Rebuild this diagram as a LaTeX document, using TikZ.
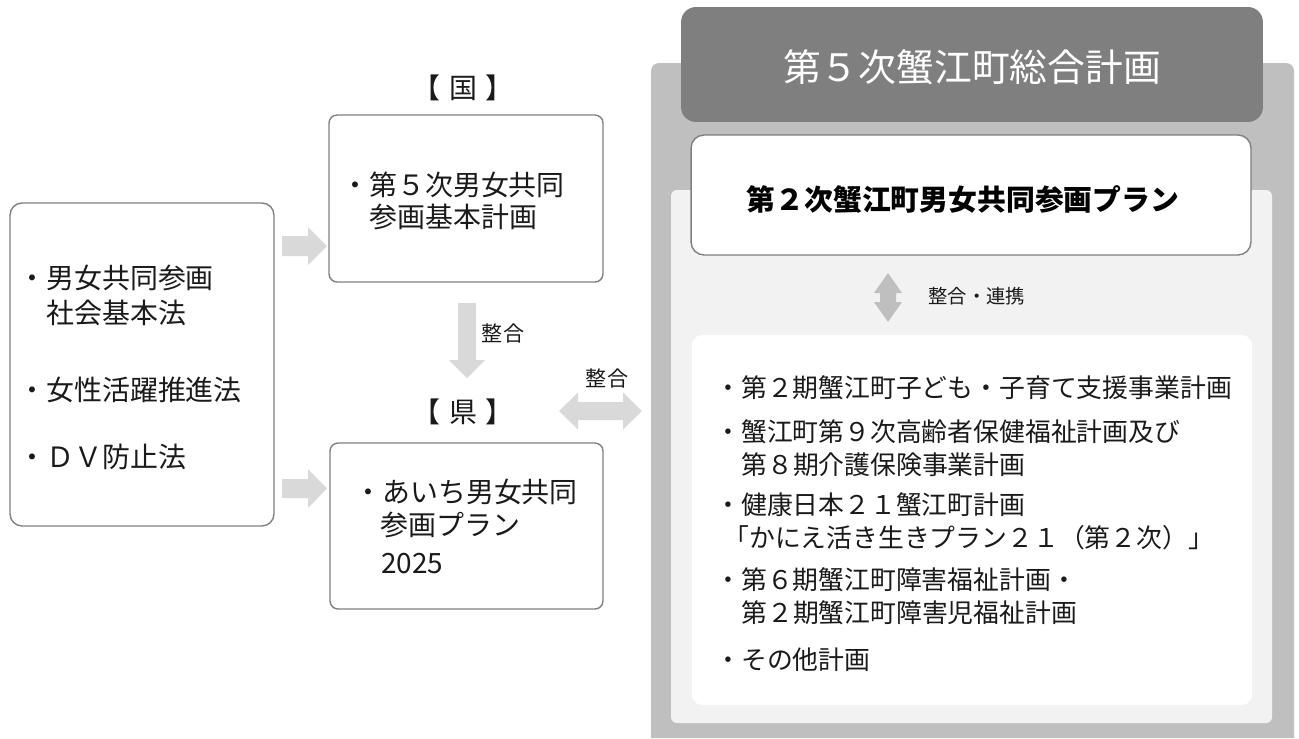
\documentclass[tikz,border=0pt]{standalone}
\usepackage{fontspec}
\setmainfont{Noto Sans CJK JP}
\definecolor{outergray}{HTML}{BFBFBF}
\definecolor{headgray}{HTML}{7F7F7F}
\definecolor{innerlight}{HTML}{F2F2F2}
\definecolor{arrowlight}{HTML}{D9D9D9}
\definecolor{arrowmid}{HTML}{BFBFBF}
\definecolor{boxline}{HTML}{808080}
\definecolor{txtcol}{HTML}{1A1A1A}
\begin{document}
\begin{tikzpicture}[x=0.02cm,y=-0.02cm,
  box/.style={draw=boxline, line width=0.8pt, fill=white, inner sep=0pt},
  txtL/.style={anchor=west, inner sep=0pt, text=txtcol, font=\fontsize{15.9pt}{19pt}\selectfont, text height=14pt, text depth=1.9pt},
  txtR/.style={anchor=west, inner sep=0pt, text=txtcol, font=\fontsize{14.7pt}{18pt}\selectfont, text height=12.9pt, text depth=1.8pt},
  lbl/.style={inner sep=0pt, text=txtcol, font=\fontsize{12pt}{14pt}\selectfont, text height=10.6pt, text depth=1.4pt},
  fatarrow/.style={fill=arrowlight, draw=none}]
\useasboundingbox (0,0) rectangle (1299,738);

% ---- right-hand frame ----
\fill[outergray] (651,738) [rounded corners=0.16cm] -- (651,63) -- (1294,63) [sharp corners] -- (1294,738) -- cycle;
\fill[innerlight, rounded corners=0.12cm] (671,190) rectangle (1272,723);
\node[fill=headgray, rounded corners=0.3cm, minimum width=11.64cm, minimum height=2.3cm, inner sep=0pt] (head) at (972,64.5) {};
\node[inner sep=0pt, text=white, font=\fontsize{21.5pt}{24pt}\selectfont] (title) at (972,67) {第５次蟹江町総合計画};
\node[box, rounded corners=0.26cm, minimum width=11.2cm, minimum height=2.4cm] (plan) at (971,195) {};
\node[inner sep=0pt, text=black, font=\fontsize{16.4pt}{19pt}\selectfont\bfseries] (plantxt) at (963,199) {第２次蟹江町男女共同参画プラン};
\node[fill=white, draw=none, rounded corners=0.2cm, minimum width=11.2cm, minimum height=7.4cm, inner sep=0pt] (list) at (972,520) {};

% vertical double arrow (plan <-> list)
\fill[arrowmid] (888,273) -- (902,293) -- (896,293) -- (896,302) -- (902,302) -- (888,322) -- (874,302) -- (880,302) -- (880,293) -- (874,293) -- cycle;
\node[lbl, anchor=west, font=\fontsize{11pt}{13pt}\selectfont, text height=9.7pt, text depth=1.3pt] (renkei) at (928,296) {整合・連携};

% list items
\node[txtR] (r1) at (715,388) {・第２期蟹江町子ども・子育て支援事業計画};
\node[txtR] (r2) at (715,432) {・蟹江町第９次高齢者保健福祉計画及び};
\node[txtR] (r2b) at (741,465) {第８期介護保険事業計画};
\node[txtR] (r3) at (715,505) {・健康日本２１蟹江町計画};
\node[txtR] (r3b) at (723,538) {「かにえ活き生きプラン２１（第２次）」};
\node[txtR] (r4) at (715,580) {・第６期蟹江町障害福祉計画・};
\node[txtR] (r4b) at (741,613) {第２期蟹江町障害児福祉計画};
\node[txtR] (r5) at (715,660) {・その他計画};

% ---- left box ----
\node[box, rounded corners=0.24cm, minimum width=5.28cm, minimum height=6.46cm] (law) at (142,364.5) {};
\node[txtL] (l1) at (18,278) {・男女共同参画};
\node[txtL] (l1b) at (46,313) {社会基本法};
\node[txtL] (l2) at (18,390) {・女性活躍推進法};
\node[txtL] (l3) at (18,457) {・ＤＶ防止法};

% ---- national ----
\node[txtL, anchor=center] (kuni) at (463,88) {【\hspace{5pt}国\hspace{5pt}】};
\node[box, rounded corners=0.16cm, minimum width=5.48cm, minimum height=3.34cm] (nat) at (466,198.5) {};
\node[txtL] (n1) at (341,185) {・第５次男女共同};
\node[txtL] (n1b) at (369,217) {参画基本計画};

% ---- prefecture ----
\node[txtL, anchor=center] (ken) at (463,412) {【\hspace{5pt}県\hspace{5pt}】};
\node[box, rounded corners=0.16cm, minimum width=5.46cm, minimum height=3.32cm] (pref) at (466.5,526) {};
\node[txtL] (p1) at (354,492) {・あいち男女共同};
\node[txtL] (p1b) at (380,525) {参画プラン};
\node[txtL] (p1c) at (381,563) {2025};

% ---- fat arrows ----
% law -> national
\fill[fatarrow] (282,236) -- (308,236) -- (308,227) -- (327,246) -- (308,265) -- (308,256) -- (282,256) -- cycle;
% law -> prefecture
\fill[fatarrow] (282,479) -- (308,479) -- (308,469) -- (327,488.5) -- (308,508) -- (308,498) -- (282,498) -- cycle;
% national -> prefecture (down)
\fill[fatarrow] (458,303) -- (476,303) -- (476,360) -- (485,360) -- (467,378) -- (449,360) -- (458,360) -- cycle;
\node[lbl] (seigo1) at (503,333) {整合};
% prefecture <-> town (double)
\fill[fatarrow] (559,411) -- (578,392.5) -- (578,402) -- (623,402) -- (623,392.5) -- (642,411) -- (623,429.5) -- (623,420) -- (578,420) -- (578,429.5) -- cycle;
\node[lbl] (seigo2) at (607,378) {整合};
\end{tikzpicture}
\end{document}
